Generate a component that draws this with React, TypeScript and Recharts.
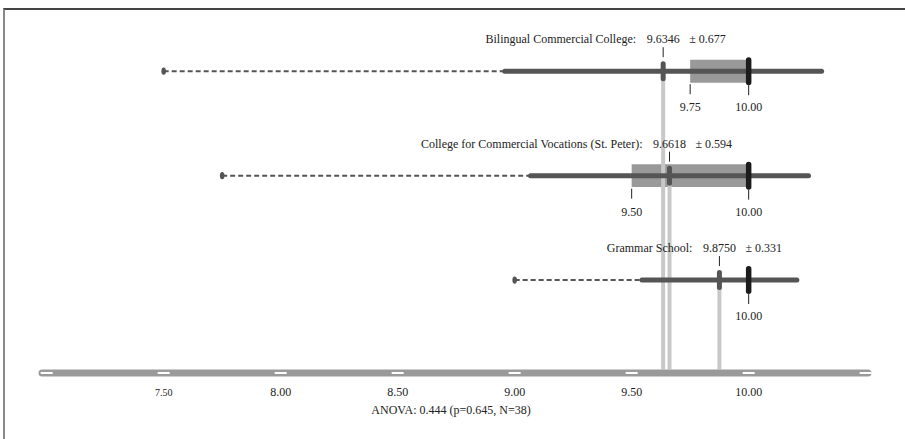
import React from 'react';
import { ComposedChart, XAxis, YAxis, Scatter, ReferenceLine, ReferenceArea, Label } from 'recharts';

// ---- data ----
const schools = ['Bilingual Commercial College', 'College for Commercial Vocations (St. Peter)', 'Grammar School'];
const means = [9.6346, 9.6618, 9.875];
const sds = [0.677, 0.594, 0.331];
const mins = [7.5, 7.75, 9.0];
const q1s = [9.75, 9.5, 10.0];
const medians = [10.0, 10.0, 10.0];
const q3s = [10.0, 10.0, 10.0];
const axisTicks = [7.0, 7.5, 8.0, 8.5, 9.0, 9.5, 10.0, 10.5];
const tickLabels = ['', '7.50', '8.00', '8.50', '9.00', '9.50', '10.00', ''];
const anovaText = 'ANOVA: 0.444 (p=0.645, N=38)';

// ---- layout ----
const X_DOMAIN: [number, number] = [6.98, 10.51];
const Y_DOMAIN: [number, number] = [0.11, 3.5];
const BOX_HALF = 0.11;
const FONT = "'Liberation Serif', 'DejaVu Serif', serif";
const TEXT = '#222';

const rows = schools.map((name, i) => ({
  name,
  y: schools.length - i,
  mean: means[i],
  sd: sds[i],
  min: mins[i],
  q1: q1s[i],
  median: medians[i],
  q3: q3s[i],
}));

const meanPts = rows.map((r) => ({ x: r.mean, y: r.y, name: r.name, mean: r.mean, sd: r.sd }));
const medianPts = rows.map((r) => ({ x: r.median, y: r.y, median: r.median }));
const q1Pts = rows.filter((r) => r.q1 < r.median).map((r) => ({ x: r.q1, y: r.y, q1: r.q1 }));
const minPts = rows.map((r) => ({ x: r.min, y: r.y }));

const MeanShape = (p: any) => {
  const { cx, cy, payload } = p;
  return (
    <g>
      <line x1={cx} x2={cx} y1={cy - 24} y2={cy - 14} stroke={TEXT} strokeWidth={1} />
      <rect x={cx - 2.5} y={cy - 10} width={5} height={20} rx={2.5} fill="#555" />
      <text x={cx - 27} y={cy - 28} textAnchor="end" fontFamily={FONT} fontSize={12} fill={TEXT}>
        {payload.name}:
      </text>
      <text x={cx} y={cy - 28} textAnchor="middle" fontFamily={FONT} fontSize={12} fill={TEXT}>
        {payload.mean.toFixed(4)}
      </text>
      <text x={cx + 26} y={cy - 28} textAnchor="start" fontFamily={FONT} fontSize={12} fill={TEXT}>
        {'± ' + payload.sd.toFixed(3)}
      </text>
    </g>
  );
};

const MedianShape = (p: any) => {
  const { cx, cy, payload } = p;
  return (
    <g>
      <rect x={cx - 2.75} y={cy - 14} width={5.5} height={28} rx={2.75} fill="#1c1c1c" />
      <line x1={cx} x2={cx} y1={cy + 14} y2={cy + 24} stroke={TEXT} strokeWidth={1} />
      <text x={cx} y={cy + 40} textAnchor="middle" fontFamily={FONT} fontSize={12} fill={TEXT}>
        {payload.median.toFixed(2)}
      </text>
    </g>
  );
};

const Q1Shape = (p: any) => {
  const { cx, cy, payload } = p;
  return (
    <g>
      <line x1={cx} x2={cx} y1={cy + 13} y2={cy + 23} stroke={TEXT} strokeWidth={1} />
      <text x={cx} y={cy + 40} textAnchor="middle" fontFamily={FONT} fontSize={12} fill={TEXT}>
        {payload.q1.toFixed(2)}
      </text>
    </g>
  );
};

const MinShape = (p: any) => {
  const { cx, cy } = p;
  return <ellipse cx={cx} cy={cy} rx={2.3} ry={3.6} fill="#555" />;
};

const AxisTick = (p: any) => {
  const { x, y, payload } = p;
  const idx = axisTicks.indexOf(payload.value);
  const label = idx >= 0 ? tickLabels[idx] : '';
  const size = payload.value === 7.5 ? 10 : 12;
  return (
    <g>
      <line x1={x - 6} x2={x + 6} y1={y} y2={y} stroke="#fff" strokeWidth={2} />
      {label ? (
        <text x={x} y={y + 23} textAnchor="middle" fontFamily={FONT} fontSize={size} fill={TEXT}>
          {label}
        </text>
      ) : null}
    </g>
  );
};

const AnovaLabel = (p: any) => {
  const vb = p.viewBox || {};
  return (
    <text x={vb.x + vb.width / 2 - 4} y={vb.y + 41} textAnchor="middle" fontFamily={FONT} fontSize={12} fill={TEXT}>
      {anovaText}
    </text>
  );
};

export default function App() {
  const lightEnd = Y_DOMAIN[0] + 0.035;
  return (
    <div style={{ position: 'absolute', left: 0, top: 0, width: 905, height: 439, background: '#fff' }}>
      <div
        style={{
          position: 'absolute',
          left: 3,
          top: 8,
          width: 902,
          height: 431,
          boxSizing: 'border-box',
          borderTop: '2px solid #444',
          borderLeft: '2px solid #888',
        }}
      />
      <div style={{ position: 'absolute', left: 0, top: 0 }}>
        <ComposedChart width={905} height={439} margin={{ top: 19, right: 37, bottom: 0, left: 42 }}>
          <XAxis
            type="number"
            dataKey="x"
            domain={X_DOMAIN}
            allowDataOverflow
            ticks={axisTicks}
            interval={0}
            height={66}
            tickSize={0}
            tickMargin={0}
            tickLine={false}
            axisLine={{ stroke: '#9a9a9a', strokeWidth: 7, strokeLinecap: 'round' }}
            tick={<AxisTick />}
          >
            <Label content={<AnovaLabel />} />
          </XAxis>
          <YAxis type="number" dataKey="y" domain={Y_DOMAIN} allowDataOverflow hide />

          {rows
            .filter((r) => r.q3 > r.q1)
            .map((r) => (
              <ReferenceArea
                key={'box' + r.y}
                x1={r.q1}
                x2={r.q3}
                y1={r.y - BOX_HALF}
                y2={r.y + BOX_HALF}
                fill="#999"
                fillOpacity={1}
                stroke="none"
                ifOverflow="visible"
              />
            ))}

          {rows.map((r) => (
            <ReferenceLine
              key={'v' + r.y}
              segment={[
                { x: r.mean, y: r.y },
                { x: r.mean, y: lightEnd },
              ]}
              stroke="#c8c8c8"
              strokeWidth={4}
              ifOverflow="visible"
            />
          ))}

          {rows.map((r) => (
            <ReferenceLine
              key={'d' + r.y}
              segment={[
                { x: r.min, y: r.y },
                { x: r.mean - r.sd, y: r.y },
              ]}
              stroke="#555"
              strokeWidth={2}
              strokeDasharray="5 3"
              ifOverflow="visible"
            />
          ))}

          {rows.map((r) => (
            <ReferenceLine
              key={'s' + r.y}
              segment={[
                { x: r.mean - r.sd, y: r.y },
                { x: r.mean + r.sd, y: r.y },
              ]}
              stroke="#555"
              strokeWidth={5}
              strokeLinecap="round"
              ifOverflow="visible"
            />
          ))}

          <Scatter data={minPts} shape={<MinShape />} isAnimationActive={false} />
          <Scatter data={q1Pts} shape={<Q1Shape />} isAnimationActive={false} />
          <Scatter data={meanPts} shape={<MeanShape />} isAnimationActive={false} />
          <Scatter data={medianPts} shape={<MedianShape />} isAnimationActive={false} />
        </ComposedChart>
      </div>
    </div>
  );
}
